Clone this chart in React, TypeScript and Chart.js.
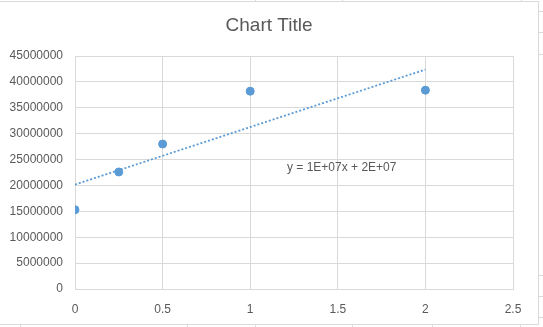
import React, { useEffect, useRef } from "react";
import { Chart, registerables } from "chart.js";

Chart.register(...registerables);

const xValues = [0, 0.25, 0.5, 1, 2];
const yValues = [15300000, 22600000, 28000000, 38200000, 38400000];
const chartTitle = "Chart Title";
const xTicksMin = 0;
const xTicksMax = 2.5;
const xStep = 0.5;
const yTicksMin = 0;
const yTicksMax = 45000000;
const yStep = 5000000;
const labelAt = [1.21, 23500000];

const BLUE = "#5b9bd5";
const GRID = "#d9d9d9";
const TEXT = "#595959";
const FONT = "'Liberation Sans', Arial, sans-serif";

function regression(xs: number[], ys: number[]) {
  const n = xs.length;
  const mx = xs.reduce((a, b) => a + b, 0) / n;
  const my = ys.reduce((a, b) => a + b, 0) / n;
  let sxx = 0, sxy = 0;
  for (let i = 0; i < n; i++) {
    sxx += (xs[i] - mx) * (xs[i] - mx);
    sxy += (xs[i] - mx) * (ys[i] - my);
  }
  const m = sxy / sxx;
  return { m, b: my - m * mx };
}

function excelExp(v: number) {
  const s = v.toExponential(0);
  const mm = s.match(/^(-?\d)e([+-])(\d+)$/);
  if (!mm) return s;
  return `${mm[1]}E${mm[2]}${mm[3].padStart(2, "0")}`;
}

export default function App() {
  const ref = useRef<HTMLCanvasElement | null>(null);
  useEffect(() => {
    if (!ref.current) return;
    const { m, b } = regression(xValues, yValues);
    const xMinData = Math.min(...xValues);
    const xMaxData = Math.max(...xValues);
    const eq = `y = ${excelExp(m)}x + ${excelExp(b)}`;

    const framePlugin = {
      id: "frame",
      beforeDraw(chart: any) {
        const ctx = chart.ctx;
        ctx.save();
        ctx.fillStyle = "#ffffff";
        ctx.fillRect(0, 0, chart.width, chart.height);
        ctx.strokeStyle = GRID;
        ctx.lineWidth = 1;
        ctx.beginPath();
        ctx.moveTo(0, 1.5);
        ctx.lineTo(538.5, 1.5);
        ctx.lineTo(538.5, 324.5);
        ctx.lineTo(0, 324.5);
        ctx.stroke();
        ctx.beginPath();
        for (const xx of [20, 187, 255, 352, 432, 520]) {
          ctx.moveTo(xx + 0.5, 325);
          ctx.lineTo(xx + 0.5, 327);
        }
        for (const xx of [255, 342, 521]) {
          ctx.moveTo(xx + 0.5, 0);
          ctx.lineTo(xx + 0.5, 1);
        }
        for (const yy of [11, 32, 54, 275, 296, 317]) {
          ctx.moveTo(539, yy + 0.5);
          ctx.lineTo(543, yy + 0.5);
        }
        ctx.stroke();
        ctx.fillStyle = TEXT;
        ctx.font = `19px ${FONT}`;
        ctx.textAlign = "center";
        ctx.textBaseline = "middle";
        ctx.fillText(chartTitle, 269, 26);
        ctx.restore();
      },
      afterDatasetsDraw(chart: any) {
        const ctx = chart.ctx;
        const xs = chart.scales.x;
        const ys = chart.scales.y;
        ctx.save();
        ctx.fillStyle = TEXT;
        ctx.font = `12px ${FONT}`;
        ctx.textAlign = "left";
        ctx.textBaseline = "middle";
        ctx.fillText(eq, xs.getPixelForValue(labelAt[0]), ys.getPixelForValue(labelAt[1]));
        ctx.restore();
      },
    };

    const chart = new Chart(ref.current, {
      type: "scatter",
      data: {
        datasets: [
          {
            label: "data",
            data: xValues.map((x, i) => ({ x, y: yValues[i] })),
            backgroundColor: BLUE,
            borderColor: BLUE,
            pointRadius: 4,
            pointHoverRadius: 4,
            showLine: false,
            order: 1,
          },
          {
            label: "trend",
            data: [
              { x: xMinData, y: b + m * xMinData },
              { x: xMaxData, y: b + m * xMaxData },
            ],
            borderColor: BLUE,
            borderWidth: 1.8,
            borderDash: [2, 2],
            pointRadius: 0,
            showLine: true,
            order: 2,
          },
        ],
      },
      options: {
        animation: false,
        responsive: false,
        layout: { padding: { left: 0, right: 30, top: 56, bottom: 0 } },
        plugins: {
          legend: { display: false },
          tooltip: { enabled: false },
          title: { display: false },
        },
        scales: {
          x: {
            type: "linear",
            min: xTicksMin,
            max: xTicksMax,
            ticks: {
              stepSize: xStep,
              color: TEXT,
              font: { family: FONT, size: 12 },
              padding: 13,
              callback: (v: any) => String(v),
            },
            grid: { color: GRID, drawTicks: false },
            border: { color: GRID },
            afterFit(scale: any) {
              scale.height = 38;
            },
          },
          y: {
            type: "linear",
            min: yTicksMin,
            max: yTicksMax,
            ticks: {
              stepSize: yStep,
              color: TEXT,
              font: { family: FONT, size: 12 },
              padding: 12,
              callback: (v: any) => String(v),
            },
            grid: { color: GRID, drawTicks: false },
            border: { color: GRID },
            afterFit(scale: any) {
              scale.width = 75;
            },
          },
        },
      },
      plugins: [framePlugin],
    });
    return () => chart.destroy();
  }, []);
  return (
    <div style={{ position: "fixed", left: 0, top: 0, width: 543, height: 327, background: "#fff" }}>
      <canvas ref={ref} width={543} height={327} style={{ display: "block" }} />
    </div>
  );
}
